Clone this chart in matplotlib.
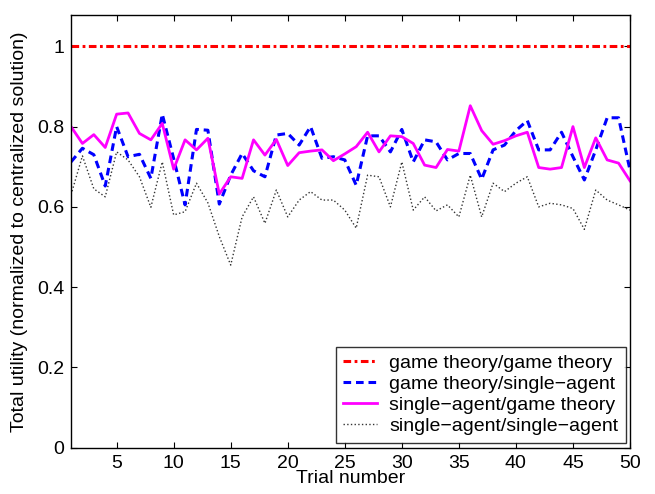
import matplotlib
matplotlib.use('Agg')
import matplotlib.pyplot as plt
import numpy as np

trials = list(range(1, 51))

gt_gt = [1.0] * 50

gt_sa = [0.712, 0.746, 0.730, 0.652, 0.800, 0.725, 0.731, 0.671, 0.831, 0.720,
         0.605, 0.793, 0.791, 0.607, 0.679, 0.733, 0.690, 0.675, 0.779, 0.783,
         0.754, 0.800, 0.721, 0.725, 0.717, 0.654, 0.777, 0.777, 0.737, 0.793,
         0.712, 0.767, 0.762, 0.717, 0.733, 0.733, 0.669, 0.742, 0.754, 0.790,
         0.815, 0.742, 0.742, 0.786, 0.725, 0.667, 0.742, 0.822, 0.822, 0.692]

sa_gt = [0.800, 0.758, 0.780, 0.748, 0.831, 0.834, 0.783, 0.767, 0.808, 0.694,
         0.767, 0.742, 0.771, 0.632, 0.675, 0.671, 0.767, 0.729, 0.768, 0.703,
         0.735, 0.739, 0.742, 0.715, 0.732, 0.750, 0.786, 0.737, 0.777, 0.775,
         0.758, 0.704, 0.698, 0.743, 0.739, 0.852, 0.790, 0.756, 0.765, 0.777,
         0.786, 0.698, 0.694, 0.698, 0.800, 0.698, 0.772, 0.717, 0.709, 0.665]

sa_sa = [0.630, 0.727, 0.645, 0.625, 0.737, 0.717, 0.675, 0.599, 0.712, 0.580,
         0.588, 0.659, 0.610, 0.526, 0.455, 0.575, 0.625, 0.559, 0.642, 0.575,
         0.617, 0.638, 0.617, 0.617, 0.592, 0.547, 0.679, 0.675, 0.600, 0.712,
         0.592, 0.625, 0.590, 0.605, 0.575, 0.679, 0.575, 0.659, 0.638, 0.659,
         0.675, 0.600, 0.609, 0.605, 0.596, 0.544, 0.642, 0.617, 0.605, 0.592]

labels = ['game theory/game theory', 'game theory/single\u2212agent',
          'single\u2212agent/game theory', 'single\u2212agent/single\u2212agent']

plt.rcParams['font.family'] = ['Liberation Sans', 'DejaVu Sans']
plt.rcParams['lines.scale_dashes'] = False

fig = plt.figure(figsize=(6.55, 4.94), dpi=100)
ax = fig.add_axes([0.1084, 0.0937, 0.8534, 0.8759])

l1, = ax.plot(trials, gt_gt, color='red', lw=2.2, label=labels[0])
l1.set_dashes([5.5, 2.5, 2, 2.5])
l2, = ax.plot(trials, gt_sa, color='blue', lw=2.2, label=labels[1])
l2.set_dashes([5.5, 3.5])
ax.plot(trials, sa_gt, color='magenta', lw=2.0, label=labels[2])
ax.plot(trials, sa_sa, color='#333333', lw=1.0, linestyle=':', label=labels[3])

ax.set_xlim(1, 50)
ax.set_ylim(0, 1.078)
ax.set_xticks(range(5, 51, 5))
ax.set_yticks([0, 0.2, 0.4, 0.6, 0.8, 1.0])
ax.set_yticklabels(['0', '0.2', '0.4', '0.6', '0.8', '1'])
ax.tick_params(direction='in', top=True, right=True, labelsize=14, length=4, width=0.8, pad=5)
for s in ax.spines.values():
    s.set_linewidth(1.0)

ax.set_xlabel('Trial number', fontsize=14, labelpad=-1)
ax.set_ylabel('Total utility (normalized to centralized solution)', fontsize=14, labelpad=6)

leg = ax.legend(loc='lower right', fontsize=14, frameon=True, fancybox=False,
                edgecolor='black', handlelength=1.7, handletextpad=0.65, borderpad=0.4,
                labelspacing=0.17, bbox_to_anchor=(0.993, 0.012), borderaxespad=0)
leg.get_frame().set_linewidth(1.0)

fig.savefig('out.png', dpi=100)
